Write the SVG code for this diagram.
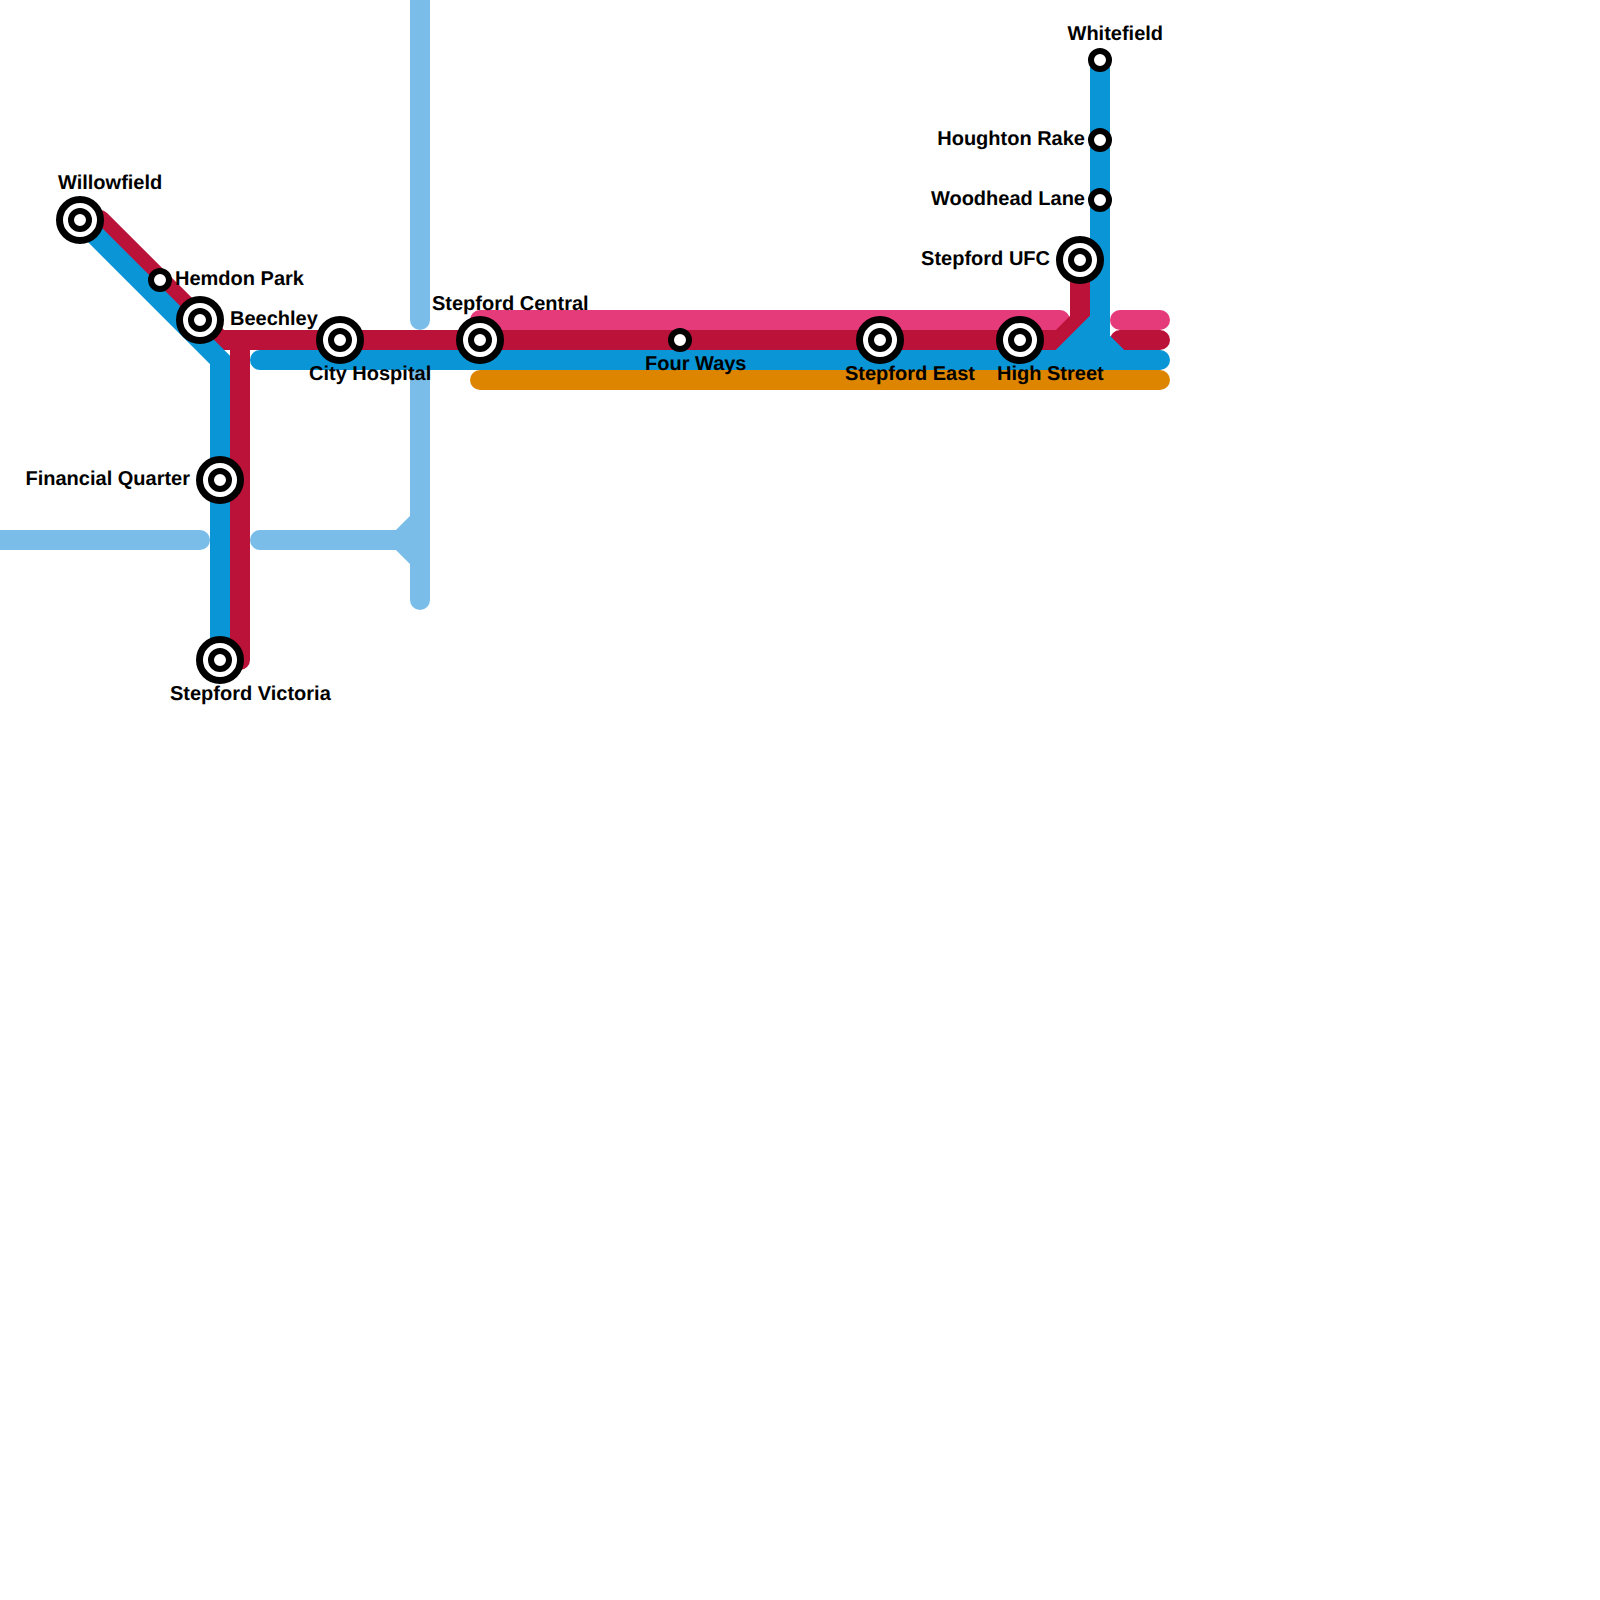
<svg xmlns="http://www.w3.org/2000/svg" width="1600" height="1600" viewBox="0 0 1600 1600">
<style>
.l{fill:none;stroke-width:20;stroke-linecap:round;stroke-linejoin:miter}
.lb{stroke:#7abde9}.bl{stroke:#0995d6}.rd{stroke:#bb1239}.pk{stroke:#e63b7a}.or{stroke:#de8500}
.o{fill:#fff;stroke:#000;stroke-width:7}
.i{fill:#fff;stroke:#000;stroke-width:6}
text{font-family:"Liberation Sans",Arial,sans-serif;font-size:20px;font-weight:bold;fill:#000;text-rendering:geometricPrecision}
</style>
<rect width="1600" height="1600" fill="#fff"/>
<g id="connectors">
<path class="l lb" d="M420 -20V320M420 360V600M-20 540H200M260 540H400L420 520M400 540L420 560"/>
<path class="l pk" d="M480 320H1060M1120 320H1160"/>
<path class="l rd" d="M100 220L220 340H1060L1080 320V260M240 340V660M1120 340H1160"/>
<path class="l bl" d="M80 220L220 360V660M260 360H1060L1100 320M1100 60V340L1120 360H1160"/>
<path fill="#0995d6" d="M1050 370V356L1090 316H1110V336L1124 350V370Z"/>
<path class="l or" d="M480 380H1160"/>
</g>
<g id="st-willowfield"><circle class="o" cx="80" cy="220" r="20.500"/><circle class="i" cx="80" cy="220" r="9"/><text x="58" y="189">Willowfield</text></g>
<g id="st-hemdon-park"><circle class="i" cx="160" cy="280" r="9"/><text x="175" y="285.200">Hemdon Park</text></g>
<g id="st-beechley"><circle class="o" cx="200" cy="320" r="20.500"/><circle class="i" cx="200" cy="320" r="9"/><text x="230" y="325">Beechley</text></g>
<g id="st-city-hospital"><circle class="o" cx="340" cy="340" r="20.500"/><circle class="i" cx="340" cy="340" r="9"/><text x="309" y="380">City Hospital</text></g>
<g id="st-stepford-central"><circle class="o" cx="480" cy="340" r="20.500"/><circle class="i" cx="480" cy="340" r="9"/><text x="432" y="310">Stepford Central</text></g>
<g id="st-four-ways"><circle class="i" cx="680" cy="340" r="9"/><text x="645" y="370">Four Ways</text></g>
<g id="st-stepford-east"><circle class="o" cx="880" cy="340" r="20.500"/><circle class="i" cx="880" cy="340" r="9"/><text x="845" y="380">Stepford East</text></g>
<g id="st-high-street"><circle class="o" cx="1020" cy="340" r="20.500"/><circle class="i" cx="1020" cy="340" r="9"/><text x="997" y="380">High Street</text></g>
<g id="st-stepford-ufc"><circle class="o" cx="1080" cy="260" r="20.500"/><circle class="i" cx="1080" cy="260" r="9"/><text x="1050" y="265" text-anchor="end">Stepford UFC</text></g>
<g id="st-woodhead-lane"><circle class="i" cx="1100" cy="200" r="9"/><text x="1085" y="205" text-anchor="end">Woodhead Lane</text></g>
<g id="st-houghton-rake"><circle class="i" cx="1100" cy="140" r="9"/><text x="1085" y="145" text-anchor="end">Houghton Rake</text></g>
<g id="st-whitefield"><circle class="i" cx="1100" cy="60" r="9"/><text x="1067.500" y="40">Whitefield</text></g>
<g id="st-financial-quarter"><circle class="o" cx="220" cy="480" r="20.500"/><circle class="i" cx="220" cy="480" r="9"/><text x="190" y="485" text-anchor="end">Financial Quarter</text></g>
<g id="st-stepford-victoria"><circle class="o" cx="220" cy="660" r="20.500"/><circle class="i" cx="220" cy="660" r="9"/><text x="170" y="700">Stepford Victoria</text></g>
</svg>
